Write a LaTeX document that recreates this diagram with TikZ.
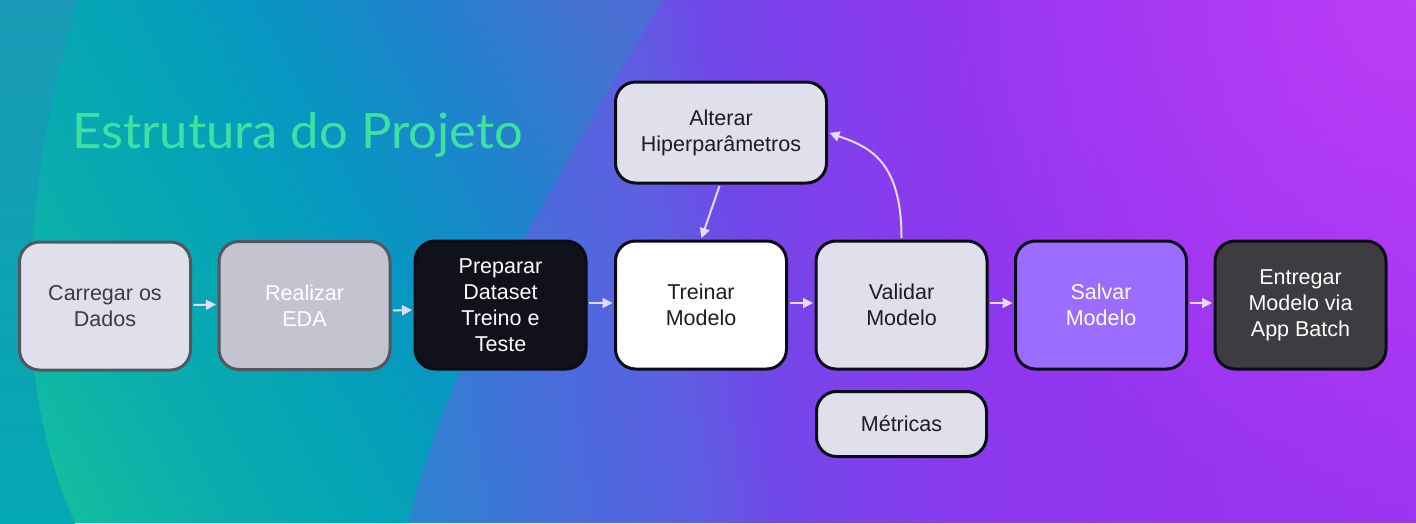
\documentclass[tikz,border=0pt]{standalone}
\usepackage{fontspec}
\setmainfont{Liberation Sans}
\newfontfamily\titlefont{Lato}
\usetikzlibrary{arrows.meta,fadings}

\definecolor{pA1}{HTML}{2F82D0}
\definecolor{pA2}{HTML}{4A6CDC}
\definecolor{pA3}{HTML}{5E5EE2}
\definecolor{pA4}{HTML}{7048E8}
\definecolor{pA5}{HTML}{8040EC}
\definecolor{pA6}{HTML}{8C38EE}
\definecolor{pA7}{HTML}{9535F0}
\definecolor{pA8}{HTML}{A035F2}
\definecolor{tB1}{HTML}{12BCA0}
\definecolor{tB2}{HTML}{0AACAE}
\definecolor{tB3}{HTML}{04A4B6}
\definecolor{tB4}{HTML}{0896C2}
\definecolor{tB5}{HTML}{1E84CC}
\definecolor{tB6}{HTML}{4A70D4}
\definecolor{tB7}{HTML}{5068D8}
\definecolor{stripTop}{HTML}{1A9AB6}
\definecolor{stripBot}{HTML}{03A8B2}
\definecolor{glowc}{HTML}{C540F8}
\definecolor{titlec}{HTML}{3FE0A0}
\definecolor{boxlight}{HTML}{E0E0EC}
\definecolor{boxgrey}{HTML}{C4C4D0}
\definecolor{boxblack}{HTML}{10111B}
\definecolor{boxpurple}{HTML}{9B6DFF}
\definecolor{boxdark}{HTML}{3D3C40}
\definecolor{bordergrey}{HTML}{52565F}
\definecolor{borderblack}{HTML}{0C0C14}
\definecolor{textdark}{HTML}{1C1C22}
\definecolor{textgrey}{HTML}{3A3A48}
\definecolor{arrc}{HTML}{E2DCF5}

\pgfdeclarehorizontalshading{bgpurple}{100bp}{color(0bp)=(pA1); color(39.38bp)=(pA1); color(44.48bp)=(pA2); color(48.47bp)=(pA3); color(50.97bp)=(pA4); color(54.22bp)=(pA5); color(58.21bp)=(pA6); color(63.96bp)=(pA7); color(75bp)=(pA8); color(100bp)=(pA8)}
\pgfdeclarehorizontalshading{bgteal}{100bp}{color(0bp)=(tB1); color(30.88bp)=(tB1); color(38.73bp)=(tB2); color(45.59bp)=(tB3); color(52.94bp)=(tB4); color(60.29bp)=(tB5); color(70.10bp)=(tB6); color(75bp)=(tB7); color(100bp)=(tB7)}
\tikzfading[name=glowfade, inner color=transparent!25, outer color=transparent!100]

\tikzset{
  box/.style={rounded corners=20pt, line width=3pt, inner sep=0pt, align=center,
    minimum width=171pt, minimum height=128pt,
    font=\fontsize{21.5}{26}\selectfont},
  lightbox/.style={box, fill=boxlight, draw=borderblack, text=textdark},
  conn/.style={draw=arrc, line width=2pt, shorten >=1.5pt, shorten <=1.5pt,
    -{Triangle[length=10pt,width=10pt]}}
}

\begin{document}
\begin{tikzpicture}[x=1pt,y=-1pt]
\useasboundingbox (0,0) rectangle (1416,523);
% background
\begin{scope}
  \clip (0,0) rectangle (1416,523);
  \begin{scope}[transform canvas={xslant=-0.153}]
    \shade[shading=bgpurple] (-100,0) rectangle (1440,523);
  \end{scope}
  \fill[glowc, path fading=glowfade] (1416,0) circle [radius=520pt];
  \begin{scope}
    \clip (-5,-5) -- (666,-5) -- (663,0) .. controls (560,170) and (450,350) .. (408,523) -- (407,528) -- (-5,528) -- cycle;
    \begin{scope}[transform canvas={xslant=-0.54}]
      \shade[shading=bgteal] (-320,0) rectangle (700,523);
    \end{scope}
  \end{scope}
  \begin{scope}
    \clip (-5,-5) -- (78,-5) -- (78,0) .. controls (20,200) and (10,380) .. (75,523) -- (75,528) -- (-5,528) -- cycle;
    \shade[top color=stripTop, bottom color=stripBot] (-5,-5) rectangle (90,528);
  \end{scope}
\end{scope}

% title
\node[anchor=base west, inner sep=0pt, text=titlec, font=\titlefont\fontsize{48.8}{50}\selectfont] (title) at (72,148) {\scalebox{1.04}[1]{Estrutura do Projeto}};

% boxes
\node[box, fill=boxlight, draw=bordergrey, text=textgrey] (b1) at (105,306) {Carregar os\\Dados};
\node[box, fill=boxgrey, draw=bordergrey, text=white] (b2) at (304.5,305.5) {Realizar\\EDA};
\node[box, fill=boxblack, draw=borderblack, text=white] (b3) at (500.5,305) {Preparar\\Dataset\\Treino e\\Teste};
\node[box, fill=white, draw=borderblack, text=textdark] (b4) at (701,305) {Treinar\\Modelo};
\node[lightbox] (b5) at (901.5,305) {Validar\\Modelo};
\node[box, fill=boxpurple, draw=borderblack, text=white] (b6) at (1101,305) {Salvar\\Modelo};
\node[box, fill=boxdark, draw=borderblack, text=white] (b7) at (1300.5,305) {Entregar\\Modelo via\\App Batch};
\node[lightbox, minimum width=211pt, minimum height=101pt] (alt) at (721,132.5) {Alterar\\Hiperparâmetros};
\node[lightbox, minimum width=170pt, minimum height=65pt] (met) at (901.5,424) {Métricas};

% connectors
\draw[conn] ([yshift=1pt]b1.east) -- ([yshift=1pt]b2.west);
\draw[conn] ([yshift=-5pt]b2.east) -- ([yshift=-5pt]b3.west);
\draw[conn] ([yshift=2pt]b3.east) -- ([yshift=2pt]b4.west);
\draw[conn] ([yshift=2pt]b4.east) -- ([yshift=2pt]b5.west);
\draw[conn] ([yshift=2pt]b5.east) -- ([yshift=2pt]b6.west);
\draw[conn] ([yshift=2pt]b6.east) -- ([yshift=2pt]b7.west);
\draw[conn] ([xshift=-1pt]alt.south) -- (b4.north);
\draw[conn] (b5.north) .. controls +(0,-80) and +(40,14) .. (alt.east);
\end{tikzpicture}
\end{document}
